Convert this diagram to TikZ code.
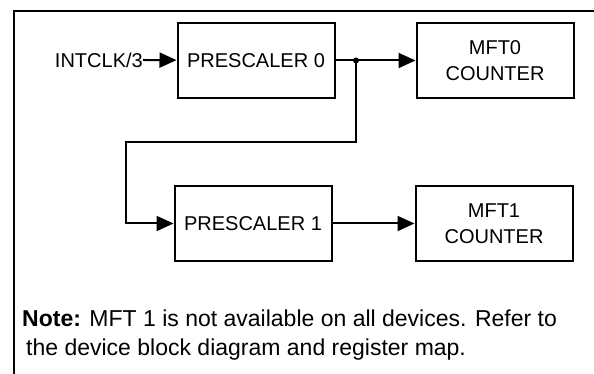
\documentclass[tikz,border=0pt]{standalone}
\usepackage{fontspec}
\setmainfont{Liberation Sans}
\usetikzlibrary{arrows.meta,positioning}

\begin{document}
\begin{tikzpicture}[
 x=1pt,y=1pt,
 node distance=80pt,
 box/.style={draw,line width=2pt,minimum width=157pt,minimum height=75pt,inner sep=0pt,align=center,font=\fontsize{20}{26}\selectfont},
 arr/.style={-{Triangle[length=17pt,width=15pt]},line width=2pt},
 wire/.style={line width=2pt}
]
\clip (0,0) rectangle (594,374);
% frame
\draw[line width=2pt] (14,-20) rectangle (640,363);
\node[box] (pre0) at (256,313.5) {PRESCALER 0};
\node[box,right=80pt of pre0] (mft0) {MFT0\\COUNTER};
\node[box,below=86pt of pre0,xshift=-3pt] (pre1) {PRESCALER 1};
\node[box,right=82pt of pre1] (mft1) {MFT1\\COUNTER};
\node[anchor=east,inner sep=0pt,font=\fontsize{20}{24}\selectfont] (clk) at (143,314) {INTCLK/3};
\coordinate (tap) at (356,313.5);
\coordinate (tapdown) at (356,232);
\coordinate (tapleft) at (126,232);
\draw[arr] (clk.east)--(pre0);
\draw[wire] (pre0)--(tap);
\draw[arr] (tap)--(mft0);
\fill (tap) circle (3pt);
\draw[arr] (tap)--(tapdown)--(tapleft)|-(pre1.west);
\draw[arr] (pre1)--(mft1);
% note
\node[anchor=base west,inner sep=0pt,align=left,font=\fontsize{23}{29}\selectfont] (note) at (22,18)
 {\textbf{Note:} MFT 1 is not available on all devices. Refer to\\\hspace*{4pt}the device block diagram and register map.};
\end{tikzpicture}
\end{document}
